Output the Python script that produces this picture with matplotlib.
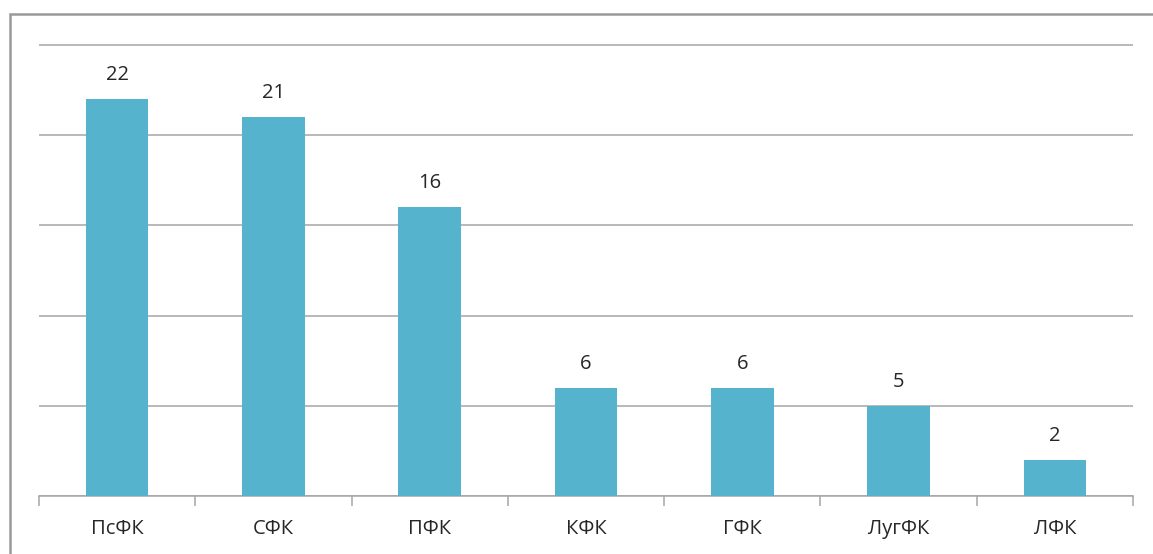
import matplotlib.pyplot as plt
from matplotlib.patches import Rectangle

categories = ['ПсФК', 'СФК', 'ПФК', 'КФК', 'ГФК', 'ЛугФК', 'ЛФК']
values = [22, 21, 16, 6, 6, 5, 2]

plt.rcParams['font.family'] = ['Open Sans', 'DejaVu Sans']

fig = plt.figure(figsize=(11.53, 5.54), dpi=100)
ax = fig.add_axes([39 / 1153, 1 - 496 / 554, (1133 - 39) / 1153, (496 - 44) / 554])

x = range(len(categories))
bars = ax.bar(x, values, width=0.4, color='#56B3CD', zorder=3)

for xi, v in zip(x, values):
    ax.annotate(str(v), (xi, v), xytext=(0, 10), textcoords='offset points',
                ha='center', va='bottom', fontsize=14.5, color='#262626')

ax.set_xlim(-0.5, len(categories) - 0.5)
ax.set_ylim(0, 25.05)
ax.set_yticks([0, 5, 10, 15, 20, 25])
ax.yaxis.grid(True, color='#A6A6A6', linewidth=1.1, zorder=0)
ax.tick_params(axis='y', left=False, labelleft=False)

ax.set_xticks(list(x))
ax.set_xticklabels(categories, fontsize=14.5, color='#262626')
ax.set_xticks([i - 0.5 for i in range(len(categories) + 1)], minor=True)
ax.tick_params(axis='x', which='major', length=0, pad=16.5)
ax.tick_params(axis='x', which='minor', length=7, width=1.1, color='#A6A6A6')

for s in ['top', 'right', 'left']:
    ax.spines[s].set_visible(False)
ax.spines['bottom'].set_color('#A6A6A6')
ax.spines['bottom'].set_linewidth(1.1)

# outer frame, cut off at right and bottom
fig.patches.append(Rectangle((10 / 1153, -0.1), 1.2, 1 - 14 / 554 + 0.1,
                             transform=fig.transFigure, fill=False,
                             edgecolor='#999999', linewidth=1.8))

fig.savefig('out.png', dpi=100)
